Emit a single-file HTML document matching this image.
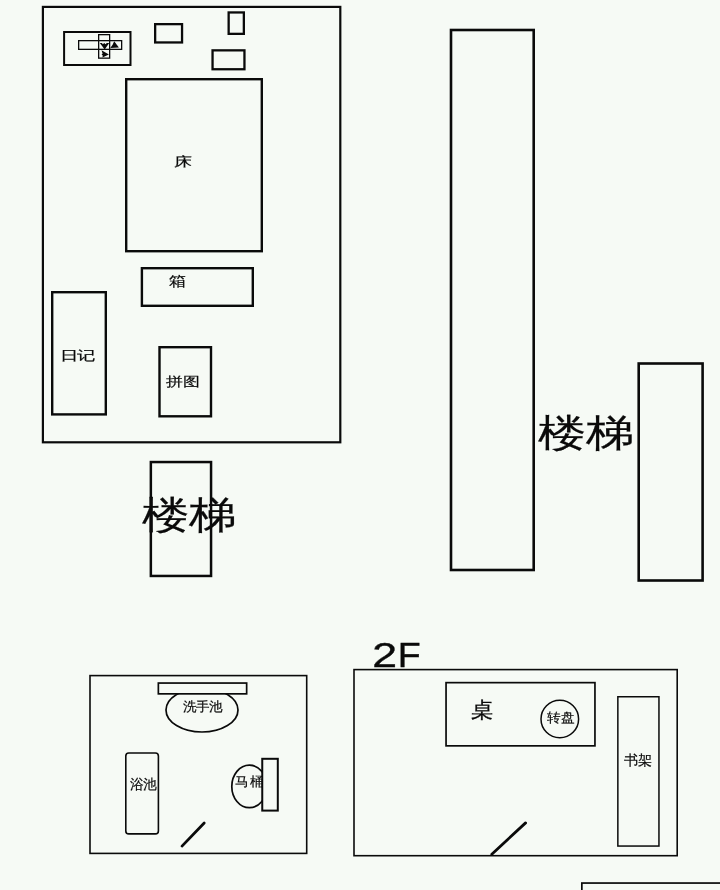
<!DOCTYPE html>
<html><head><meta charset="utf-8"><style>
html,body{margin:0;padding:0;background:#f6faf5;width:720px;height:890px;overflow:hidden}
svg{display:block;font-family:"Liberation Sans",sans-serif}
text{fill:#0a0a0a;stroke:#0a0a0a}
svg{will-change:transform}
</style></head><body>
<svg width="720" height="890" viewBox="0 0 720 890">
<rect x="42.90" y="6.90" width="297.40" height="435.40" rx="0" fill="none" stroke="#0a0a0a" stroke-width="2.2"/>
<rect x="64.10" y="32.00" width="66.40" height="33.00" rx="0" fill="none" stroke="#0a0a0a" stroke-width="2.0"/>
<rect x="78.65" y="40.65" width="43.00" height="8.70" rx="0" fill="none" stroke="#0a0a0a" stroke-width="1.3"/>
<rect x="98.65" y="34.65" width="11.00" height="23.50" rx="0" fill="none" stroke="#0a0a0a" stroke-width="1.3"/>
<polygon points="99.8,42.9 101.9,42.9 102.9,44.2 104.2,43.0 105.6,44.2 106.8,42.9 109.2,42.9 104.7,49.6" fill="#0a0a0a"/>
<polygon points="110.3,48.0 112.6,44.8 114.2,41.2 117.0,45.0 118.9,47.4" fill="#0a0a0a"/>
<polygon points="101.5,50.3 108.9,54.6 102.4,57.6 102.8,55.6 101.6,54.8 102.6,53.4" fill="#0a0a0a"/>
<rect x="155.15" y="24.15" width="26.90" height="18.30" rx="0" fill="none" stroke="#0a0a0a" stroke-width="2.3"/>
<rect x="228.65" y="12.45" width="15.20" height="21.40" rx="0" fill="none" stroke="#0a0a0a" stroke-width="2.3"/>
<rect x="212.55" y="50.35" width="31.90" height="18.90" rx="0" fill="none" stroke="#0a0a0a" stroke-width="2.3"/>
<rect x="126.20" y="79.20" width="135.60" height="172.00" rx="0" fill="none" stroke="#0a0a0a" stroke-width="2.4"/>
<rect x="141.90" y="268.20" width="110.90" height="37.60" rx="0" fill="none" stroke="#0a0a0a" stroke-width="2.4"/>
<rect x="52.20" y="292.20" width="53.60" height="122.20" rx="0" fill="none" stroke="#0a0a0a" stroke-width="2.4"/>
<rect x="159.50" y="347.20" width="51.50" height="69.10" rx="0" fill="none" stroke="#0a0a0a" stroke-width="2.4"/>
<text transform="matrix(0.1823 0 0 0.1311 174.32 166.15)" font-size="100" stroke-width="1.5">床</text>
<text transform="matrix(0.1681 0 0 0.1376 168.73 286.01)" font-size="100" stroke-width="1.5">箱</text>
<text transform="matrix(0.1786 0 0 0.1260 60.02 360.36)" font-size="100" stroke-width="1.5">日记</text>
<text transform="matrix(0.1724 0 0 0.1330 166.07 385.91)" font-size="100" stroke-width="1.5">拼图</text>
<rect x="150.85" y="462.05" width="60.20" height="113.90" rx="0" fill="none" stroke="#0a0a0a" stroke-width="2.5"/>
<text transform="matrix(0.4749 0 0 0.3794 141.80 528.31)" font-size="100" stroke-width="0.5">楼梯</text>
<rect x="451.00" y="30.00" width="82.70" height="540.00" rx="0" fill="none" stroke="#0a0a0a" stroke-width="2.6"/>
<rect x="638.70" y="363.50" width="63.90" height="217.00" rx="0" fill="none" stroke="#0a0a0a" stroke-width="2.6"/>
<text transform="matrix(0.4805 0 0 0.3784 538.30 446.02)" font-size="100" stroke-width="0.5">楼梯</text>
<rect x="90.00" y="675.60" width="216.70" height="177.80" rx="0" fill="none" stroke="#0a0a0a" stroke-width="1.6"/>
<ellipse cx="202" cy="710" rx="36" ry="22" fill="none" stroke="#0a0a0a" stroke-width="1.7"/>
<rect x="158.35" y="683.05" width="88.30" height="10.80" rx="0" fill="#f6faf5" stroke="#0a0a0a" stroke-width="1.7"/>
<text transform="matrix(0.1359 0 0 0.1306 182.66 710.67)" font-size="100" stroke-width="1.5">洗手池</text>
<rect x="125.80" y="753.00" width="32.60" height="80.90" rx="3" fill="none" stroke="#0a0a0a" stroke-width="1.6"/>
<text transform="matrix(0.1328 0 0 0.1354 130.17 789.44)" font-size="100" stroke-width="1.5">浴池</text>
<line x1="182" y1="846.1" x2="204.2" y2="823" stroke="#0a0a0a" stroke-width="2.8" stroke-linecap="round"/>
<ellipse cx="249.4" cy="786.4" rx="17.6" ry="21.3" fill="none" stroke="#0a0a0a" stroke-width="1.7"/>
<text transform="matrix(0.1390 0 0 0.1323 235.48 786.38)" font-size="100" stroke-width="1.5">马桶</text>
<rect x="262.25" y="758.80" width="15.55" height="51.80" rx="0" fill="#f6faf5" stroke="#0a0a0a" stroke-width="2.0"/>
<rect x="354.00" y="669.60" width="323.20" height="186.10" rx="0" fill="none" stroke="#0a0a0a" stroke-width="1.6"/>
<text transform="matrix(0.4468 0 0 0.3576 372.21 666.64)" font-size="100" stroke-width="1">2</text>
<text transform="matrix(0.3760 0 0 0.3563 397.79 666.64)" font-size="100" stroke-width="1">F</text>
<rect x="446.05" y="682.65" width="148.90" height="63.20" rx="0" fill="none" stroke="#0a0a0a" stroke-width="1.7"/>
<circle cx="559.8" cy="719" r="18.8" fill="none" stroke="#0a0a0a" stroke-width="1.5"/>
<text transform="matrix(0.2228 0 0 0.2071 471.45 716.89)" font-size="100" stroke-width="1.5">桌</text>
<text transform="matrix(0.1355 0 0 0.1289 547.40 721.87)" font-size="100" stroke-width="1.5">转盘</text>
<rect x="617.85" y="696.75" width="41.10" height="149.30" rx="0" fill="none" stroke="#0a0a0a" stroke-width="1.5"/>
<text transform="matrix(0.1389 0 0 0.1374 623.96 765.44)" font-size="100" stroke-width="1.5">书架</text>
<line x1="491.8" y1="854.2" x2="525.6" y2="822.9" stroke="#0a0a0a" stroke-width="2.8" stroke-linecap="round"/>
<rect x="581.85" y="883.05" width="177.30" height="66.10" rx="0" fill="none" stroke="#0a0a0a" stroke-width="1.7"/>
</svg></body></html>
